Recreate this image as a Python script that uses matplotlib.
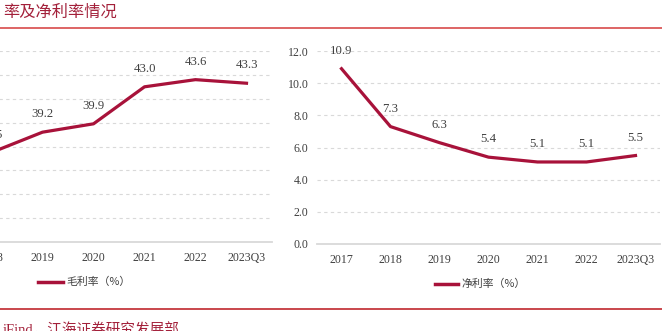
import matplotlib
matplotlib.use("Agg")
import matplotlib.pyplot as plt
import numpy as np

# ---- data ----
years = ["2017", "2018", "2019", "2020", "2021", "2022", "2023Q3"]
gross_margin = [np.nan, 37.5, 39.2, 39.9, 43.0, 43.6, 43.3]   # 2017 out of view
net_margin = [10.9, 7.3, 6.3, 5.4, 5.1, 5.1, 5.5]
title_text = "率及净利率情况"
source_text = "iFind，江海证券研究发展部"
legend_left = "毛利率（%）"
legend_right = "净利率（%）"

W, H = 662, 331
fig = plt.figure(figsize=(W / 100, H / 100), dpi=100)
fig.patch.set_facecolor("white")

LINE_C = "#a8123a"
RED = "#c0272d"
TXT_RED = "#a3203a"
SERIF = ["Liberation Serif", "DejaVu Serif"]
CJK = ["Noto Sans CJK SC", "DejaVu Sans"]


def px_axes(l, r, top, bottom):
    return fig.add_axes([l / W, (H - bottom) / H, (r - l) / W, (bottom - top) / H])


def style(ax, ylim, yticks, show_labels):
    ax.set_xlim(-0.5, 6.5)
    ax.set_ylim(*ylim)
    ax.set_yticks(yticks)
    ax.set_xticks(range(len(years)))
    ax.set_xticklabels(years, fontfamily=SERIF, fontsize=8.6, color="#404040")
    for s in ["top", "right", "left"]:
        ax.spines[s].set_visible(False)
    ax.spines["bottom"].set_color("#d9d9d9")
    ax.spines["bottom"].set_linewidth(1.3)
    ax.tick_params(axis="both", length=0, pad=6)
    ax.tick_params(axis="x", pad=7)
    ax.grid(axis="y", linestyle=(0, (3, 3)), color="#d9d9d9", linewidth=0.8)
    ax.set_axisbelow(True)
    if show_labels:
        ax.set_yticklabels([f"{v:.1f}" for v in yticks], fontfamily=SERIF,
                           fontsize=8.6, color="#404040")
    else:
        ax.set_yticklabels([])


# left chart (cropped at figure left edge)
axL = px_axes(-85, 272, 51, 242)
style(axL, (30, 46), np.arange(30, 47, 2), False)
x = np.arange(len(years))
axL.plot(x, gross_margin, color=LINE_C, linewidth=2.3, solid_joinstyle="round")
for xi, v in zip(x, gross_margin):
    if not np.isnan(v):
        axL.annotate(f"{v:.1f}", (xi, v), xytext=(0, 8.5), textcoords="offset points",
                     ha="center", va="bottom", fontfamily=SERIF, fontsize=9.2,
                     color="#404040", annotation_clip=False)

# right chart
axR = px_axes(317, 660, 51, 244)
style(axR, (0, 12), np.arange(0, 12.1, 2), True)
axR.plot(x, net_margin, color=LINE_C, linewidth=2.3, solid_joinstyle="round")
for xi, v in zip(x, net_margin):
    axR.annotate(f"{v:.1f}", (xi, v), xytext=(0, 8.5), textcoords="offset points",
                 ha="center", va="bottom", fontfamily=SERIF, fontsize=9.2,
                 color="#404040")

# legends (drawn manually in figure pixels)
def legend(x0, x1, tx, y, label):
    fig.add_artist(plt.Line2D([x0 / W, x1 / W], [(H - y) / H] * 2,
                              color=LINE_C, linewidth=2.5, transform=fig.transFigure))
    fig.text(tx / W, (H - y) / H, label, fontfamily=CJK, fontsize=7.8,
             color="#404040", va="center", ha="left")


legend(38, 63, 66, 282, legend_left)
legend(435, 458, 461, 284, legend_right)

# title and rules
fig.text(3 / W, (H - 12) / H, title_text, fontfamily=CJK, fontsize=11.7,
         color=TXT_RED, va="center", ha="left")
fig.add_artist(plt.Line2D([0, 1], [(H - 28) / H] * 2, color="#d84a4a",
                          linewidth=1.2, transform=fig.transFigure))
fig.add_artist(plt.Line2D([0, 1], [(H - 309) / H] * 2, color=RED,
                          linewidth=1.2, transform=fig.transFigure))
fig.text(3 / W, (H - 322) / H, source_text, fontfamily=["Liberation Serif", "Noto Sans CJK SC"],
         fontsize=10.5, color=TXT_RED, va="top", ha="left")

fig.savefig("out.png", dpi=100)
